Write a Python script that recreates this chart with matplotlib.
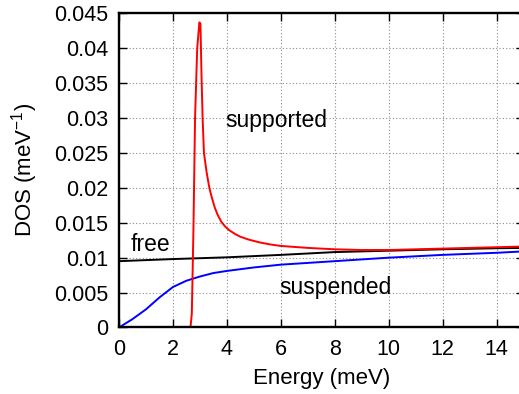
import matplotlib.pyplot as plt
from matplotlib.ticker import FuncFormatter

plt.rcParams['font.family'] = ['Liberation Sans', 'DejaVu Sans']
plt.rcParams['mathtext.default'] = 'regular'

# free
e_free = [0, 2, 4, 6, 8, 10, 12, 14, 15]
dos_free = [0.0095, 0.0098, 0.01005, 0.0104, 0.0108, 0.0110, 0.0112, 0.01135, 0.0114]

# suspended
e_susp = [0, 0.5, 1, 1.5, 2, 2.5, 3, 3.5, 4, 5, 6, 8, 10, 12, 14, 15]
dos_susp = [0, 0.0012, 0.0026, 0.0043, 0.0058, 0.0067, 0.0073, 0.0078, 0.0081,
            0.0086, 0.0090, 0.0095, 0.0100, 0.0104, 0.0107, 0.0109]

# supported
e_supp = [0, 2.65, 2.70, 2.76, 2.82, 2.90, 2.98, 3.02, 3.06, 3.10, 3.15, 3.25,
          3.35, 3.45, 3.55, 3.65, 3.8, 3.95, 4.1, 4.3, 4.5, 4.8, 5.2, 5.6,
          6, 7, 8, 9, 10, 11, 12, 13, 14, 15]
dos_supp = [0, 0, 0.002, 0.014, 0.030, 0.040, 0.0437, 0.0435, 0.036, 0.030,
            0.025, 0.0222, 0.0200, 0.0185, 0.0172, 0.0162, 0.0151, 0.0144,
            0.0139, 0.0134, 0.0130, 0.0126, 0.0122, 0.0119,
            0.01168, 0.0114, 0.0112, 0.0111, 0.0111, 0.0112, 0.0113, 0.0114,
            0.0115, 0.0116]

fig = plt.figure(figsize=(5.19, 3.94), dpi=100)
ax = fig.add_axes([0.2293, 0.1688, 0.7794, 0.7974])

ax.plot(e_free, dos_free, color="black", lw=1.4)
ax.plot(e_susp, dos_susp, color="blue", lw=1.4)
ax.plot(e_supp, dos_supp, color="red", lw=1.4)

ax.text(0.42, 0.0119, "free", fontsize=16.5, va="center")
ax.text(3.95, 0.0297, "supported", fontsize=16.5, va="center")
ax.text(5.95, 0.00576, "suspended", fontsize=16.5, va="center")

ax.set_xlim(0, 15)
ax.set_ylim(0, 0.045)
ax.set_xticks(range(0, 15, 2))
ax.set_yticks([i * 0.005 for i in range(10)])
ax.yaxis.set_major_formatter(FuncFormatter(lambda v, p: "%g" % round(v, 4)))
ax.tick_params(direction="in", length=6, width=1, labelsize=15.5,
               top=True, right=True)
ax.tick_params(axis="y", pad=8)
ax.tick_params(axis="x", pad=8)
ax.grid(True, color="0.55", linestyle=(0, (1, 2)), lw=0.8)
for s in ax.spines.values():
    s.set_linewidth(1.7)

ax.set_xlabel("Energy (meV)", fontsize=16, labelpad=6)
ax.set_ylabel("DOS (meV$^{-1}$)", fontsize=16, labelpad=10)

fig.savefig("out.png", dpi=100)
